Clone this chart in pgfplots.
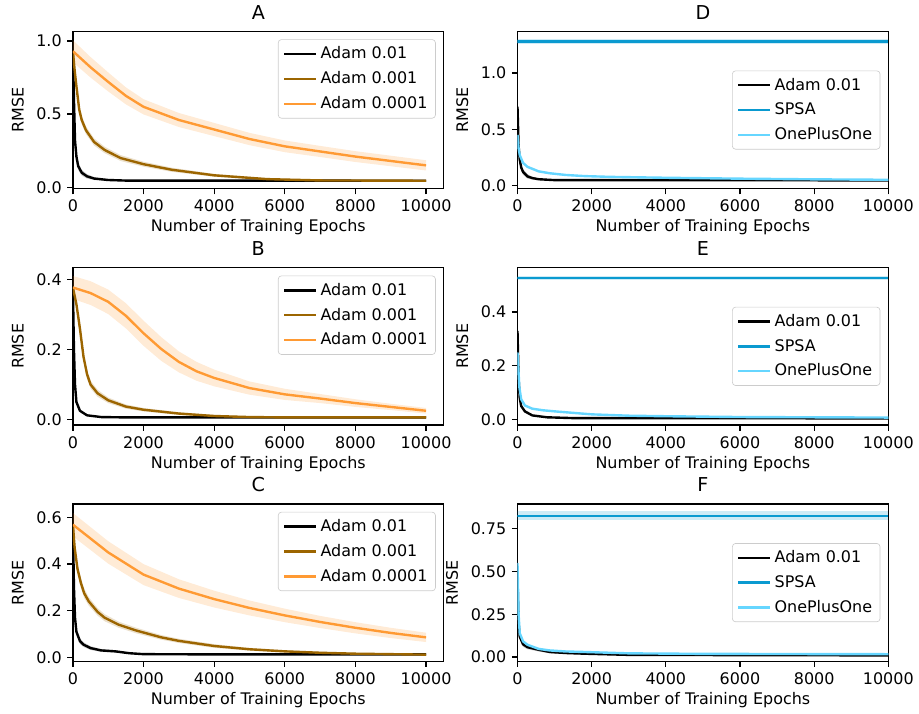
\documentclass[border=0pt]{standalone}
\usepackage{fontspec}
\setmainfont{DejaVu Sans}
\usepackage{pgfplots}
\usepackage{pgfplotstable}
\pgfplotsset{compat=1.18}
\usepgfplotslibrary{groupplots,fillbetween}

\definecolor{cblack}{HTML}{000000}
\definecolor{cbrown}{HTML}{9C6500}
\definecolor{corange}{HTML}{FF9A33}
\definecolor{cspsa}{HTML}{0A9AD0}
\definecolor{copo}{HTML}{66D6FF}

% columns: epoch, mean, std
% ---- A ----
\pgfplotstableread{
x m s
0 0.93 0.03
30 0.60 0.03
60 0.32 0.03
100 0.21 0.03
150 0.145 0.025
250 0.10 0.02
400 0.075 0.015
600 0.06 0.01
1000 0.05 0.005
1500 0.046 0.003
10000 0.045 0.003
}\Aone
\pgfplotstableread{
x m s
0 0.93 0.03
50 0.80 0.03
100 0.69 0.03
180 0.53 0.03
250 0.46 0.028
370 0.39 0.026
600 0.31 0.024
900 0.255 0.022
1350 0.20 0.02
2000 0.158 0.017
2800 0.12 0.014
4000 0.082 0.01
5500 0.056 0.007
7000 0.047 0.004
10000 0.045 0.003
}\Atwo
\pgfplotstableread{
x m s
0 0.93 0.075
500 0.82 0.07
1000 0.72 0.065
1500 0.625 0.058
2000 0.55 0.052
3000 0.46 0.048
4000 0.395 0.045
5000 0.33 0.042
6000 0.28 0.04
7000 0.245 0.038
8000 0.21 0.037
9000 0.18 0.036
10000 0.15 0.035
}\Athree
% ---- B ----
\pgfplotstableread{
x m s
0 0.378 0.01
30 0.20 0.01
60 0.10 0.006
100 0.05 0.004
200 0.025 0.003
400 0.012 0.002
800 0.007 0.001
1500 0.006 0.001
10000 0.006 0.001
}\Bone
\pgfplotstableread{
x m s
0 0.378 0.01
100 0.33 0.012
200 0.26 0.012
300 0.18 0.012
400 0.13 0.012
500 0.10 0.011
700 0.075 0.01
1000 0.055 0.008
1500 0.037 0.006
2000 0.028 0.005
3000 0.017 0.004
4000 0.010 0.003
5000 0.007 0.002
6000 0.006 0.001
10000 0.006 0.001
}\Btwo
\pgfplotstableread{
x m s
0 0.378 0.033
500 0.362 0.034
1000 0.337 0.035
1500 0.297 0.036
2000 0.247 0.036
2500 0.202 0.034
3000 0.165 0.03
3500 0.138 0.027
4000 0.119 0.024
5000 0.09 0.019
6000 0.072 0.016
7000 0.06 0.013
8000 0.047 0.011
9000 0.036 0.009
10000 0.025 0.008
}\Bthree
% ---- C ----
\pgfplotstableread{
x m s
0 0.57 0.02
30 0.30 0.02
60 0.17 0.02
100 0.11 0.015
200 0.07 0.012
300 0.055 0.01
500 0.04 0.008
800 0.03 0.006
1200 0.026 0.005
1600 0.018 0.003
2000 0.014 0.002
4000 0.013 0.002
10000 0.013 0.002
}\Cone
\pgfplotstableread{
x m s
0 0.57 0.02
50 0.47 0.02
130 0.38 0.02
225 0.32 0.02
320 0.275 0.02
450 0.24 0.018
700 0.195 0.016
900 0.17 0.015
1300 0.14 0.013
1800 0.115 0.012
2500 0.086 0.01
3000 0.071 0.009
4000 0.049 0.008
5000 0.035 0.006
6000 0.026 0.005
7000 0.02 0.004
8000 0.016 0.003
10000 0.012 0.002
}\Ctwo
\pgfplotstableread{
x m s
0 0.569 0.05
1000 0.45 0.048
2000 0.355 0.045
3000 0.295 0.04
4000 0.25 0.036
5000 0.212 0.032
6000 0.18 0.029
7000 0.152 0.026
8000 0.127 0.024
9000 0.105 0.022
10000 0.086 0.02
}\Cthree
% ---- D ----
\pgfplotstableread{
x m s
0 0.70 0.03
30 0.35 0.03
60 0.23 0.03
100 0.16 0.03
150 0.12 0.025
270 0.08 0.02
400 0.065 0.012
570 0.055 0.008
1000 0.047 0.004
10000 0.045 0.003
}\Done
\pgfplotstableread{
x m s
0 1.28 0.018
10000 1.28 0.018
}\Dtwo
\pgfplotstableread{
x m s
0 0.45 0.01
30 0.33 0.01
60 0.27 0.01
150 0.20 0.01
270 0.165 0.01
570 0.125 0.01
870 0.108 0.009
1300 0.093 0.008
1800 0.083 0.007
2500 0.076 0.006
4000 0.068 0.005
6000 0.06 0.005
8000 0.054 0.004
10000 0.05 0.004
}\Dthree
% ---- E ----
\pgfplotstableread{
x m s
0 0.33 0.01
30 0.15 0.01
60 0.08 0.008
100 0.05 0.006
200 0.03 0.005
400 0.015 0.003
800 0.008 0.002
1500 0.005 0.001
10000 0.004 0.001
}\Eone
\pgfplotstableread{
x m s
0 0.527 0.008
10000 0.527 0.008
}\Etwo
\pgfplotstableread{
x m s
0 0.25 0.005
50 0.12 0.005
100 0.075 0.005
200 0.052 0.004
400 0.04 0.004
700 0.034 0.003
1100 0.029 0.003
2000 0.019 0.002
3000 0.014 0.002
4000 0.012 0.002
6000 0.009 0.001
10000 0.007 0.001
}\Ethree
% ---- F ----
\pgfplotstableread{
x m s
0 0.45 0.015
30 0.20 0.015
60 0.12 0.015
150 0.075 0.015
270 0.058 0.012
570 0.043 0.01
870 0.03 0.008
1300 0.024 0.006
1800 0.02 0.004
3000 0.013 0.003
10000 0.01 0.002
}\Fone
\pgfplotstableread{
x m s
0 0.826 0.026
10000 0.826 0.026
}\Ftwo
\pgfplotstableread{
x m s
0 0.55 0.008
30 0.25 0.008
60 0.14 0.008
150 0.092 0.008
270 0.072 0.007
570 0.048 0.006
870 0.039 0.005
1300 0.033 0.004
1800 0.03 0.004
3000 0.022 0.003
5000 0.019 0.003
10000 0.017 0.003
}\Fthree

% band plus mean line: table, colour, unique id, legend text
\newcommand{\series}[4]{%
  \addplot[draw=none, name path=#3u, forget plot] table[x=x, y expr=\thisrow{m}+\thisrow{s}] {#1};
  \addplot[draw=none, name path=#3l, forget plot] table[x=x, y expr=\thisrow{m}-\thisrow{s}] {#1};
  \addplot[fill=#2, fill opacity=0.2, draw=none, forget plot] fill between[of=#3u and #3l];
  \addplot[#2, line width=1.5pt] table[x=x, y=m] {#1};
  \addlegendentry{#4}
}

\begin{document}
\begin{tikzpicture}[font=\fontsize{10}{12}\selectfont]
\begin{groupplot}[
  group style={group size=2 by 3, horizontal sep=46.25pt, vertical sep=49.4pt},
  scale only axis, width=232.5pt, height=98.75pt,
  title style={font=\fontsize{12}{14}\selectfont, yshift=-2pt},
  axis line style={line width=0.8pt},
  tick style={line width=0.8pt, black},
  tick align=outside, major tick length=3.5pt,
  xtick pos=bottom, ytick pos=left,
  xmin=0, xtick={0,2000,4000,6000,8000,10000},
  scaled ticks=false,
  /pgf/number format/assume math mode=true,
  xticklabel style={/pgf/number format/1000 sep={}},
  xlabel={Number of Training Epochs}, ylabel={RMSE},
  xlabel style={yshift=2pt}, ylabel style={yshift=1pt},
  legend cell align=left,
  legend style={draw=black!20, rounded corners=2pt, fill=white, fill opacity=0.8, text opacity=1,
    font=\fontsize{10}{12}\selectfont, row sep=2.5pt, inner xsep=3pt, inner ysep=2.5pt},
  legend image code/.code={\draw[#1] (0pt,0pt) -- (20pt,0pt);},
  yticklabel style={/pgf/number format/fixed, /pgf/number format/precision=1, /pgf/number format/fixed zerofill},
]
% A
\nextgroupplot[title={A}, xmax=10500, ymin=-0.01, ymax=1.066, ytick={0,0.5,1},
  legend style={at={(1,1)}, anchor=north east, xshift=-5pt, yshift=-5pt}]
\series{\Aone}{cblack}{aa}{Adam 0.01}
\series{\Atwo}{cbrown}{ab}{Adam 0.001}
\series{\Athree}{corange}{ac}{Adam 0.0001}
% D
\nextgroupplot[title={D}, xmax=10000, ymin=-0.03, ymax=1.371, ytick={0,0.5,1},
  legend style={at={(1,0.5)}, anchor=east, xshift=-5pt}]
\series{\Done}{cblack}{da}{Adam 0.01}
\series{\Dtwo}{cspsa}{db}{SPSA}
\series{\Dthree}{copo}{dc}{OnePlusOne}
% B
\nextgroupplot[title={B}, xmax=10500, ymin=-0.016, ymax=0.435, ytick={0,0.2,0.4},
  legend style={at={(1,1)}, anchor=north east, xshift=-5pt, yshift=-5pt}]
\series{\Bone}{cblack}{ba}{Adam 0.01}
\series{\Btwo}{cbrown}{bb}{Adam 0.001}
\series{\Bthree}{corange}{bc}{Adam 0.0001}
% E
\nextgroupplot[title={E}, xmax=10000, ymin=-0.021, ymax=0.566, ytick={0,0.2,0.4},
  legend style={at={(1,0.5)}, anchor=east, xshift=-5pt}]
\series{\Eone}{cblack}{ea}{Adam 0.01}
\series{\Etwo}{cspsa}{eb}{SPSA}
\series{\Ethree}{copo}{ec}{OnePlusOne}
% C
\nextgroupplot[title={C}, xmax=10500, ymin=-0.017, ymax=0.658, ytick={0,0.2,0.4,0.6},
  legend style={at={(1,1)}, anchor=north east, xshift=-5pt, yshift=-5pt}]
\series{\Cone}{cblack}{ca}{Adam 0.01}
\series{\Ctwo}{cbrown}{cb}{Adam 0.001}
\series{\Cthree}{corange}{cc}{Adam 0.0001}
% F
\nextgroupplot[title={F}, xmax=10000, ymin=-0.025, ymax=0.896, ytick={0,0.25,0.5,0.75},
  yticklabel style={/pgf/number format/precision=2},
  legend style={at={(1,0.5)}, anchor=east, xshift=-5pt}]
\series{\Fone}{cblack}{fa}{Adam 0.01}
\series{\Ftwo}{cspsa}{fb}{SPSA}
\series{\Fthree}{copo}{fc}{OnePlusOne}
\end{groupplot}
% a little white margin on the left, as in the reference
\path (current bounding box.west) ++(-4pt,0pt) coordinate (padleft);
\end{tikzpicture}
\end{document}
